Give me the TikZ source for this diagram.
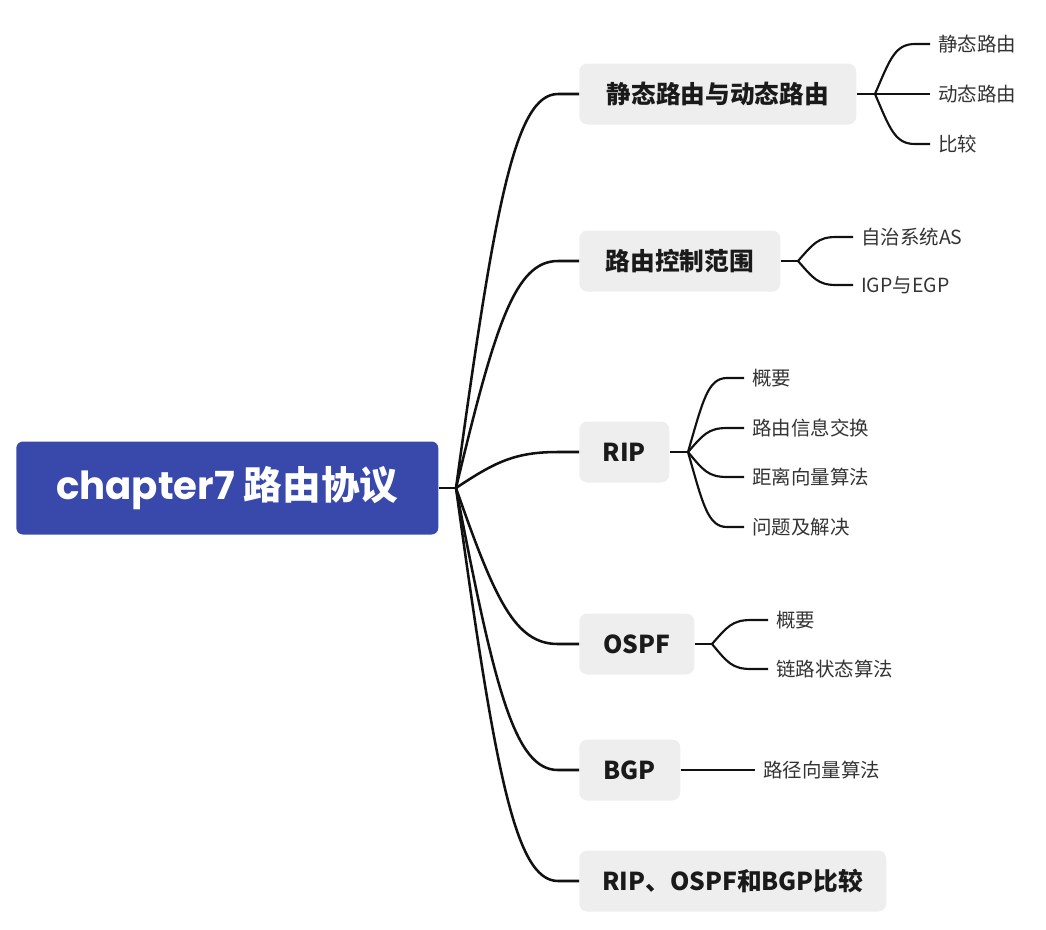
\documentclass[tikz,border=0pt]{standalone}
\usepackage{fontspec}
\setmainfont{Noto Sans CJK SC}
\newfontfamily\popfont{Poppins}
\usetikzlibrary{calc}
\definecolor{rootblue}{HTML}{3949AB}
\definecolor{boxgray}{HTML}{EEEEEE}
\definecolor{linecol}{HTML}{111111}
\definecolor{leaftext}{HTML}{333333}
\definecolor{topictext}{HTML}{1A1A1A}
\begin{document}
\begin{tikzpicture}[x=0.75pt,y=-0.75pt,
  rootbox/.style={fill=rootblue, rounded corners=5pt, text=white,
    font=\fontsize{29}{34}\selectfont\bfseries,
    minimum height=93*0.75pt, minimum width=422*0.75pt, anchor=west, inner sep=0pt},
  topic/.style={fill=boxgray, rounded corners=6pt, text=topictext,
    font=\fontsize{18.5}{22}\selectfont\bfseries,
    minimum height=61*0.75pt, anchor=west, inner sep=0pt},
  leaf/.style={anchor=west, inner xsep=6pt, inner ysep=2pt, text=leaftext,
    font=\fontsize{14.6}{18}\selectfont},
  trunk/.style={draw=linecol, line width=1.9pt},
  twig/.style={draw=linecol, line width=1.6pt}]

\useasboundingbox (0,0) rectangle (1046,929);

% root
\node[rootbox] (root) at (16,488) {{\popfont\bfseries chapter7} 路由协议};
\coordinate (j0) at (456,488);
\draw[trunk] (root.east) -- (j0);

% topics
\node[topic, minimum width=277*0.75pt] (t1) at (579,94) {静态路由与动态路由};
\node[topic, minimum width=201*0.75pt] (t2) at (579,261) {路由控制范围};
\node[topic, minimum width=90*0.75pt] (t3) at (579,452) {RIP};
\node[topic, minimum width=115*0.75pt] (t4) at (579,644) {OSPF};
\node[topic, minimum width=101*0.75pt] (t5) at (579,770) {BGP};
\node[topic, minimum width=307*0.75pt] (t6) at (579,881) {RIP、OSPF和BGP比较};

\draw[trunk] (j0) .. controls (495,204) and (515,94) .. (558,94) -- (t1.west);
\draw[trunk] (j0) .. controls (495,325) and (515,261) .. (558,261) -- (t2.west);
\draw[trunk] (j0) .. controls (495,462) and (515,452) .. (558,452) -- (t3.west);
\draw[trunk] (j0) .. controls (495,600) and (515,644) .. (558,644) -- (t4.west);
\draw[trunk] (j0) .. controls (495,691) and (515,770) .. (558,770) -- (t5.west);
\draw[trunk] (j0) .. controls (495,771) and (515,881) .. (558,881) -- (t6.west);

% t1 leaves
\coordinate (j1) at (875,94);
\draw[twig] (t1.east) -- (j1);
\node[leaf] (l11) at (930,44) {静态路由};
\node[leaf] (l12) at (930,94) {动态路由};
\node[leaf] (l13) at (930,144) {比较};
\draw[twig] (j1) .. controls (890,59) and (895,44) .. (915,44) -- (l11.west);
\draw[twig] (j1) -- (l12.west);
\draw[twig] (j1) .. controls (890,129) and (895,144) .. (915,144) -- (l13.west);

% t2 leaves
\coordinate (j2) at (798,261);
\draw[twig] (t2.east) -- (j2);
\node[leaf] (l21) at (853,237) {自治系统AS};
\node[leaf] (l22) at (853,285) {IGP与EGP};
\draw[twig] (j2) .. controls (813,244) and (818,237) .. (836,237) -- (l21.west);
\draw[twig] (j2) .. controls (813,278) and (818,285) .. (836,285) -- (l22.west);

% t3 leaves
\coordinate (j3) at (688,452);
\draw[twig] (t3.east) -- (j3);
\node[leaf] (l31) at (744,378) {概要};
\node[leaf] (l32) at (744,428) {路由信息交换};
\node[leaf] (l33) at (744,477) {距离向量算法};
\node[leaf] (l34) at (744,527) {问题及解决};
\draw[twig] (j3) .. controls (703,400) and (708,378) .. (727,378) -- (l31.west);
\draw[twig] (j3) .. controls (703,435) and (708,428) .. (727,428) -- (l32.west);
\draw[twig] (j3) .. controls (703,470) and (708,477) .. (727,477) -- (l33.west);
\draw[twig] (j3) .. controls (703,505) and (708,527) .. (727,527) -- (l34.west);

% t4 leaves
\coordinate (j4) at (712,644);
\draw[twig] (t4.east) -- (j4);
\node[leaf] (l41) at (768,620) {概要};
\node[leaf] (l42) at (768,669) {链路状态算法};
\draw[twig] (j4) .. controls (727,627) and (732,620) .. (751,620) -- (l41.west);
\draw[twig] (j4) .. controls (727,662) and (732,669) .. (751,669) -- (l42.west);

% t5 leaf
\node[leaf] (l51) at (755,770) {路径向量算法};
\draw[twig] (t5.east) -- (l51.west);
\end{tikzpicture}
\end{document}
